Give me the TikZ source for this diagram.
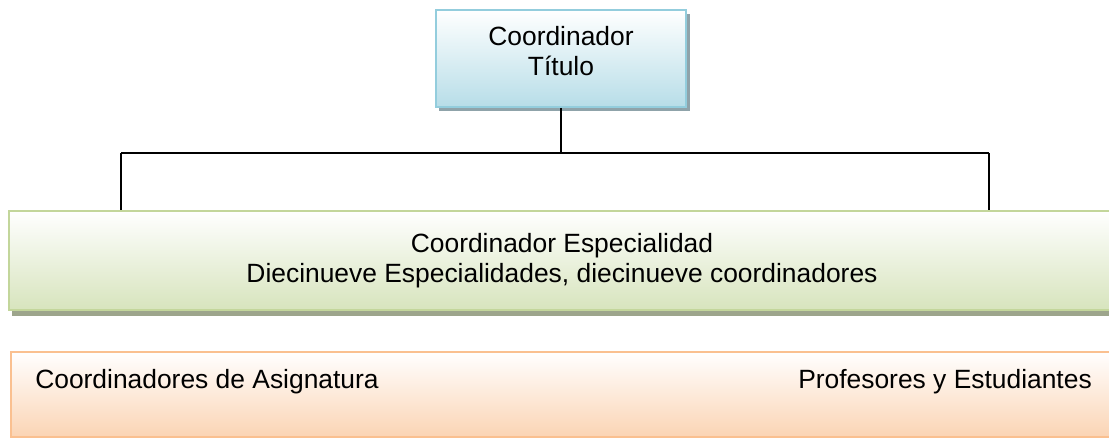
\documentclass[tikz,border=0pt]{standalone}
\usepackage{tikz}
\usepackage{xcolor}
\usepackage{fontspec}
\setmainfont{Liberation Sans}
\usetikzlibrary{shadows}

\begin{document}
\begin{tikzpicture}[x=0.75pt,y=-0.75pt,
  caja/.style={rectangle,line width=1.5pt,inner sep=0pt},
  texto/.style={font=\fontsize{19.8}{22.5}\selectfont,align=center,inner sep=0pt},
  linea/.style={line width=1.1pt,black}]
\definecolor{azulborde}{HTML}{93CDDD}
\definecolor{azul}{HTML}{B7DDE8}
\definecolor{verdeborde}{HTML}{C3D69B}
\definecolor{verde}{HTML}{D7E4BD}
\definecolor{naranjaborde}{HTML}{FAC090}
\definecolor{naranja}{HTML}{FBD4B4}
\definecolor{sombraazul}{HTML}{8FA3AA}
\definecolor{sombraverde}{HTML}{9DA58C}
\useasboundingbox (0,0) rectangle (1109,438);
\clip (0,0) rectangle (1109,438);
\node[caja,draw=azulborde,top color=white,bottom color=azul,minimum width=188pt,minimum height=72.75pt,
  drop shadow={shadow xshift=2.5pt,shadow yshift=-3pt,fill=sombraazul,opacity=1}] (titulo) at (561,58.5) {};
\node[texto] (titulotxt) at (561,51.5) {Coordinador\\Título};
\node[caja,texto,draw=verdeborde,top color=white,bottom color=verde,minimum width=829.5pt,minimum height=74.25pt,
  drop shadow={shadow xshift=2.25pt,shadow yshift=-4.5pt,fill=sombraverde,opacity=1}] (esp) at (562,260.5)
  {Coordinador Especialidad\\Diecinueve Especialidades, diecinueve coordinadores};
\node[caja,draw=naranjaborde,top color=white,bottom color=naranja,minimum width=831.75pt,minimum height=63.75pt] (asig) at (565.5,394.5) {};
\node[texto,anchor=base west] (coordasig) at (35,388) {Coordinadores de Asignatura};
\node[texto,anchor=base east] (profes) at (1092,388) {Profesores y Estudiantes};
\coordinate (izq) at (121,153);
\coordinate (der) at (989,153);
\draw[linea] (titulo.south) -- (titulo.south |- izq);
\draw[linea] (izq) -- (der);
\foreach \lado in {izq,der}
  {\draw[linea] (\lado) -- (\lado |- esp.north);}
\end{tikzpicture}
\end{document}
